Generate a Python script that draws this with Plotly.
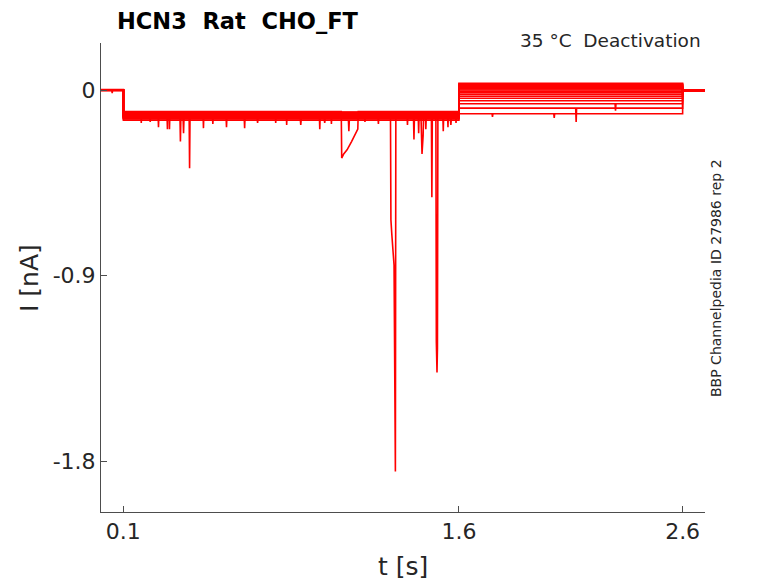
import plotly.graph_objects as go

# ── Protocol timing (s) ───────────────────────────────────────────────────────
seg_edges = [0.0, 0.1, 1.6, 2.6, 2.7]

# ── Per-sweep holding / test / tail levels (nA) ───────────────────────────────
pre_level  = [0.0, -0.002, 0.0, 0.001, -0.001, 0.0, 0.002, -0.002, 0.0, 0.001,
              -0.001, 0.0, 0.001, -0.002, 0.0, 0.001, -0.001, 0.0]
test_level = [-0.104, -0.110, -0.116, -0.121, -0.113, -0.127, -0.119, -0.132,
              -0.124, -0.137, -0.108, -0.129, -0.141, -0.146, -0.107, -0.118,
              -0.125, -0.134]
tail_level = [0.033, 0.029, 0.025, 0.021, 0.017, 0.013, 0.009, 0.005,
              0.000, -0.006, -0.013, -0.021, -0.030, -0.040, -0.052, -0.067,
              -0.088, -0.115]
post_level = [-0.003, -0.002, -0.004, -0.003, -0.002, -0.004, -0.003, -0.002,
              -0.004, -0.003, -0.002, -0.004, -0.003, -0.003, -0.002, -0.004,
              -0.003, -0.002]

# ── Transient events: sweep index, times (s), currents (nA) ───────────────────
event_sweep = [2, 1, 4, 6, 7, 9, 3, 10, 5, 11, 8, 12, 2, 13, 0, 6, 9, 4, 11, 7,
               10, 1, 12, 3, 0, 5, 8, 9, 10, 12, 1, 3, 5, 6, 2, 8, 17, 16, 15, 17]
event_t = [
    [0.05], [0.257], [0.297], [0.306], [0.355], [0.369], [0.396], [0.458],
    [0.561], [0.642], [0.781], [0.893], [0.978], [1.108],
    [1.076, 1.085, 1.100, 1.120, 1.135, 1.148],
    [1.296, 1.300, 1.305, 1.310, 1.316],
    [1.399], [1.432, 1.435, 1.440], [1.452], [1.479],
    [1.499, 1.502, 1.504],
    [1.551], [1.564], [1.587],
    [0.18], [0.22], [0.50], [0.70], [0.83], [1.00], [1.03], [1.18], [1.24],
    [1.37], [1.53], [1.42],
    [1.75], [2.124], [2.30], [2.026],
]
event_I = [
    [-0.015], [-0.18], [-0.19], [-0.19], [-0.25], [-0.21], [-0.38], [-0.185],
    [-0.18], [-0.185], [-0.16], [-0.17], [-0.19], [-0.20],
    [-0.33, -0.31, -0.29, -0.25, -0.22, -0.19],
    [-0.63, -0.70, -0.80, -0.85, -1.85],
    [-0.24], [-0.26, -0.31, -0.22], [-0.19], [-0.52],
    [-1.22, -1.37, -1.25],
    [-0.18], [-0.17], [-0.16],
    [-0.16], [-0.155], [-0.165], [-0.16], [-0.17], [-0.16], [-0.165], [-0.155],
    [-0.165], [-0.17], [-0.20], [-0.21],
    [-0.13], [-0.155], [-0.10], [-0.135],
]

_RED = "#ff0000"
_AX = "#4d4d4d"
_TXT = "#262626"
_FONT = "DejaVu Sans"
_EPS = 0.002

# page body has an 8px margin, so the figure is drawn 8px in from the corner
_OFF = 8
_W, _H = 778 - _OFF, 583 - _OFF
# plot area in figure pixels
_L, _R, _T, _B = 101 - _OFF, 705 - _OFF, 43 - _OFF, 512 - _OFF


def _px(x, y):
    # window pixels -> paper coords
    x, y = x - _OFF, y - _OFF
    return (x - _L) / (_R - _L), (_B - y) / (_B - _T)


def _sweep(k):
    levels = [pre_level[k], test_level[k], tail_level[k], post_level[k]]
    evs = [(event_t[i], event_I[i]) for i, s in enumerate(event_sweep) if s == k]
    xs, ys = [], []
    for j, lvl in enumerate(levels):
        a, b = seg_edges[j], seg_edges[j + 1]
        xs.append(a)
        ys.append(lvl)
        for ts, cs in sorted((e for e in evs if a < e[0][0] < b), key=lambda e: e[0][0]):
            xs += [ts[0] - _EPS] + ts + [ts[-1] + _EPS]
            ys += [lvl] + cs + [lvl]
        xs.append(b)
        ys.append(lvl)
    return xs, ys


fig = go.Figure()
for k in range(len(test_level)):
    x, y = _sweep(k)
    fig.add_trace(go.Scatter(x=x, y=y, mode="lines", showlegend=False,
                             line=dict(color=_RED, width=1.6)))

axis_common = dict(
    showline=True, linecolor=_AX, linewidth=1, mirror=False,
    ticks="inside", ticklen=6, tickcolor=_AX, tickwidth=1,
    showgrid=False, zeroline=False,
    tickfont=dict(family=_FONT, size=22, color=_TXT),
)
fig.update_layout(
    width=_W, height=_H,
    margin=dict(l=_L, r=_W - _R, t=_T, b=_H - _B),
    paper_bgcolor="white", plot_bgcolor="white",
    xaxis=dict(range=[0.0, 2.7], tickvals=[0.1, 1.6, 2.6],
               ticktext=["0.1", "1.6", "2.6"], **axis_common),
    yaxis=dict(range=[-2.047, 0.228], tickvals=[0, -0.9, -1.8],
               ticktext=["0", "-0.9", "-1.8"], **axis_common),
    font=dict(family=_FONT, color=_TXT),
)

notes = [
    # text, window px x, px y, anchor, size, angle, bold
    ("HCN3  Rat  CHO_FT", 115, 21, "left", 22.5, 0, True),
    ("35 °C  Deactivation", 703, 41, "right", 18.5, 0, False),
    ("BBP Channelpedia ID 27986 rep 2", 716, 278, "center", 14, -90, False),
    ("I [nA]", 29, 278, "center", 25, -90, False),
    ("t [s]", 403, 566, "center", 25, 0, False),
]
for txt, px, py, anchor, size, ang, bold in notes:
    xx, yy = _px(px, py)
    fig.add_annotation(
        text=f"<b>{txt}</b>" if bold else txt,
        xref="paper", yref="paper", x=xx, y=yy,
        xanchor=anchor, yanchor="middle", showarrow=False, textangle=ang,
        font=dict(family=_FONT, size=size, color="black" if bold else _TXT),
    )

fig.write_html("out.html")
